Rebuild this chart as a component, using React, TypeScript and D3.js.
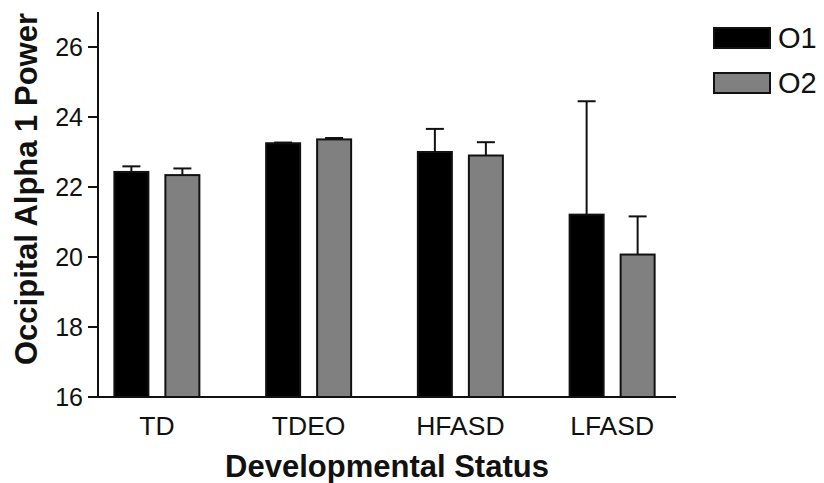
import React from "react";
import * as d3 from "d3";

// Occipital alpha 1 power by developmental status, two electrodes (mean + SE)
const categories = ["TD", "TDEO", "HFASD", "LFASD"];
const seriesNames = ["O1", "O2"];
const o1Means = [22.43, 23.25, 23.0, 21.21];
const o1Errors = [0.16, 0.02, 0.66, 3.24];
const o2Means = [22.34, 23.36, 22.9, 20.07];
const o2Errors = [0.19, 0.04, 0.38, 1.09];
const yTicks = [16, 18, 20, 22, 24, 26];

const W = 824;
const H = 483;
const FONT = "'Liberation Sans', Arial, Helvetica, sans-serif";
const colors: Record<string, string> = { O1: "#000000", O2: "#808080" };

export default function App() {
  const axisX = 98;
  const axisEnd = 676;
  const y = d3.scaleLinear().domain([16, 27]).range([397, 12]);
  const x0 = d3.scaleBand<string>().domain(categories).range([81, 688]).padding(0);
  const x1 = d3
    .scaleBand<string>()
    .domain(seriesNames)
    .range([-42.5, 42.5])
    .paddingInner(1 / 3)
    .paddingOuter(0);

  const rows = categories.map((c, i) => ({
    cat: c,
    values: [
      { name: "O1", mean: o1Means[i], err: o1Errors[i] },
      { name: "O2", mean: o2Means[i], err: o2Errors[i] },
    ],
  }));

  const capW = 18;

  return (
    <svg
      width={W}
      height={H}
      style={{ position: "absolute", left: 0, top: 0, background: "#fff" }}
      fontFamily={FONT}
    >
      {/* bars and error bars */}
      {rows.map((r) => {
        const cx = x0(r.cat)! + x0.bandwidth() / 2;
        return (
          <g key={r.cat} transform={`translate(${cx},0)`}>
            {r.values.map((v) => {
              const bx = x1(v.name)!;
              const bw = x1.bandwidth();
              const mid = bx + bw / 2;
              return (
                <g key={v.name}>
                  <line
                    x1={mid}
                    x2={mid}
                    y1={y(v.mean)}
                    y2={y(v.mean + v.err)}
                    stroke="#111"
                    strokeWidth={2}
                  />
                  <line
                    x1={mid - capW / 2}
                    x2={mid + capW / 2}
                    y1={y(v.mean + v.err)}
                    y2={y(v.mean + v.err)}
                    stroke="#111"
                    strokeWidth={2}
                  />
                  <rect
                    x={bx}
                    y={y(v.mean)}
                    width={bw}
                    height={y(16) - y(v.mean)}
                    fill={colors[v.name]}
                    stroke="#111"
                    strokeWidth={2}
                  />
                </g>
              );
            })}
            <text x={0} y={435} textAnchor="middle" fontSize={26.5} fill="#111">
              {r.cat}
            </text>
          </g>
        );
      })}

      {/* y axis */}
      <line x1={axisX} x2={axisX} y1={y(27)} y2={y(16) + 1} stroke="#111" strokeWidth={2} />
      {yTicks.map((t) => (
        <g key={t}>
          <line x1={axisX - 10} x2={axisX} y1={y(t)} y2={y(t)} stroke="#111" strokeWidth={2} />
          <text
            x={83}
            y={y(t)}
            dy="0.36em"
            textAnchor="end"
            fontSize={25}
            fill="#111"
          >
            {t}
          </text>
        </g>
      ))}
      {/* x axis */}
      <line x1={axisX - 1} x2={axisEnd} y1={y(16)} y2={y(16)} stroke="#111" strokeWidth={2} />

      {/* axis titles */}
      <text
        transform={`translate(37,${189}) rotate(-90)`}
        textAnchor="middle"
        fontSize={31}
        fontWeight="bold"
        fill="#111"
      >
        Occipital Alpha 1 Power
      </text>
      <text x={387} y={477} textAnchor="middle" fontSize={31} fontWeight="bold" fill="#111">
        Developmental Status
      </text>

      {/* legend */}
      {seriesNames.map((s, i) => (
        <g key={s} transform={`translate(714,${28 + i * 45})`}>
          <rect x={0} y={0} width={56} height={20} fill={colors[s]} stroke="#111" strokeWidth={2} />
          <text x={64} y={20} fontSize={29} fill="#111">
            {s}
          </text>
        </g>
      ))}
    </svg>
  );
}
